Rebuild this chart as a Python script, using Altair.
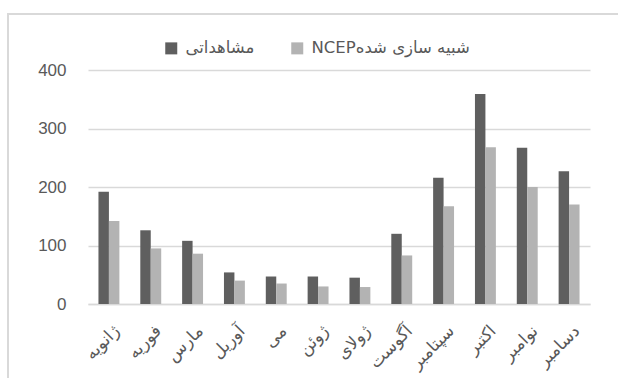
import altair as alt
import pandas as pd

# Monthly totals: observed vs NCEP-simulated
months = ["ژانویه", "فوریه", "مارس", "آوریل", "می", "ژوئن",
          "ژولای", "آگوست", "سپتامبر", "اکتبر", "نوامبر", "دسامبر"]
observed = [192, 126, 108, 54, 47, 47, 45, 120, 216, 359, 267, 227]
ncep = [142, 95, 86, 40, 35, 30, 29, 83, 167, 268, 200, 170]
# second label is wrapped in a right-to-left embedding so it reads RTL
series = ["مشاهداتی", "\u202bشبیه سازی شدهNCEP\u202c"]
colors = ["#5f5f5f", "#b3b3b3"]
y_ticks = [0, 100, 200, 300, 400]

rows = []
for m, o, n in zip(months, observed, ncep):
    rows.append({"month": m, "series": series[0], "value": o})
    rows.append({"month": m, "series": series[1], "value": n})
df = pd.DataFrame(rows)

W, H = 502, 234
PAD_L, PAD_T = 88, 70

bars = alt.Chart(df).mark_bar().encode(
    x=alt.X(
        "month:N", sort=months,
        scale=alt.Scale(paddingInner=0.5, paddingOuter=0.25),
        axis=alt.Axis(
            title=None, labelAngle=-45, labelAlign="right", labelBaseline="middle",
            labelFont="DejaVu Sans", labelFontSize=17, labelColor="#595959",
            labelPadding=24, labelOffset=8, ticks=False,
            domainColor="#d9d9d9", domainWidth=1.5,
        ),
    ),
    xOffset=alt.XOffset("series:N", sort=series,
                        scale=alt.Scale(paddingInner=0, paddingOuter=0)),
    y=alt.Y(
        "value:Q", scale=alt.Scale(domain=[0, 400], nice=False),
        axis=alt.Axis(
            title=None, values=y_ticks, domain=False, ticks=False,
            gridColor="#d9d9d9", gridWidth=1.5, labelPadding=22,
            labelFont="Liberation Sans", labelFontSize=17, labelColor="#595959",
        ),
    ),
    color=alt.Color(
        "series:N", sort=series,
        scale=alt.Scale(domain=series, range=colors),
        legend=alt.Legend(
            title=None, orient="none", legendX=75, legendY=-30,
            direction="horizontal", symbolType="square", symbolSize=144,
            symbolStrokeWidth=0, labelFont="DejaVu Sans", labelFontSize=16.5,
            labelColor="#595959", columnPadding=34, labelOffset=6,
        ),
    ),
)

# Light grey outer frame around the whole chart
frame = alt.Chart(alt.Data(values=[{}])).mark_rect(
    fillOpacity=0, stroke="#d9d9d9", strokeWidth=2, clip=False
).encode(
    x=alt.value(8 - PAD_L), x2=alt.value(640 - PAD_L),
    y=alt.value(14 - PAD_T), y2=alt.value(420),
)

chart = alt.layer(frame, bars).properties(
    width=W, height=H,
    autosize=alt.AutoSizeParams(type="none"),
    padding={"left": PAD_L, "top": PAD_T, "right": 618 - PAD_L - W, "bottom": 378 - PAD_T - H},
    background="white",
).configure_view(stroke=None)

chart.save("out.html", embed_options={"renderer": "svg", "actions": False})
